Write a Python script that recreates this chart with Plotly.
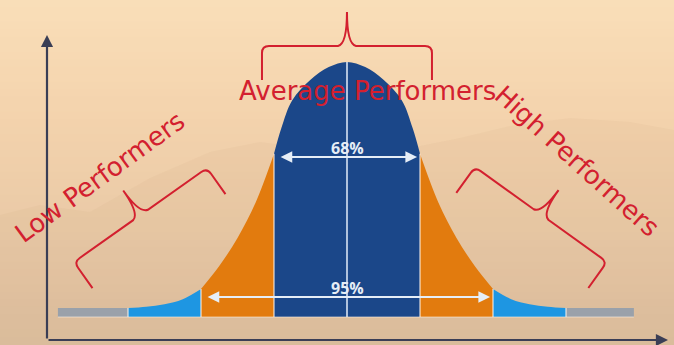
import numpy as np
import plotly.graph_objects as go

# ---------------- data ----------------
# bell curve: position in standard deviations (right half) and relative height
sigma_pos = [0, 0.25, 0.5, 0.75, 0.9, 1.0, 1.25, 1.5, 1.75, 2.0, 2.25, 2.5, 2.75, 3.0]
curve_height = [1.00, 0.98, 0.93, 0.85, 0.74, 0.64, 0.45, 0.31, 0.20, 0.11, 0.07, 0.05, 0.04, 0.035]

band_edges = [-3, -2, -1, 1, 2, 3]
band_names = ["Low tail", "Below avg", "Average", "Above avg", "High tail"]
tail_ranges = [(-3.96, -3.0), (3.0, 3.93)]
tail_height = 0.035

pct_labels = ["68%", "95%"]
pct_spans = [1, 2]          # +/- sigma spanned by the arrows
group_labels = ["Average Performers", "Low Performers", "High Performers"]

# ---------------- geometry helpers ----------------
W, H = 674, 345
CX, SIG, BASE, PEAK = 347, 73, 317, 255


def dx(px):
    return (px - CX) / SIG


def dy(py):
    return (BASE - py) / PEAK


def P(x, y):
    return f"{x / W:.4f},{1 - y / H:.4f}"


# full symmetric curve
xs = [-v for v in sigma_pos[::-1]] + sigma_pos[1:]
ys = curve_height[::-1] + curve_height[1:]
curve = dict(zip(xs, ys))

BAND_COLORS = ["#1E96E2", "#E27B0E", "#1B4789", "#E27B0E", "#1E96E2"]
GRAY = "#9AA1AA"
RED = "#D3202F"
LIGHT = "#E6EEF7"
AXIS = "#3A3E55"

fig = go.Figure()

# gray tails
for a, b in tail_ranges:
    fig.add_trace(go.Scatter(x=[a, b], y=[tail_height, tail_height], mode="lines",
                             line=dict(width=0, color=GRAY), fill="tozeroy",
                             fillcolor=GRAY, hoverinfo="skip", showlegend=False))

# colored bands
for i, name in enumerate(band_names):
    a, b = band_edges[i], band_edges[i + 1]
    bx = [x for x in xs if a <= x <= b]
    by = [curve[x] for x in bx]
    fig.add_trace(go.Scatter(x=bx, y=by, mode="lines", name=name,
                             line=dict(width=0, color=BAND_COLORS[i], shape="spline", smoothing=1.0),
                             fill="tozeroy", fillcolor=BAND_COLORS[i],
                             hoverinfo="skip", showlegend=False))

shapes = []
# background gradient bands
bg_stops = [(0, (250, 223, 185)), (120, (244, 211, 173)), (230, (234, 202, 167)), (345, (221, 191, 159))]
nb = 46
for k in range(nb):
    y0 = k * H / nb
    y1 = (k + 1) * H / nb
    yc = (y0 + y1) / 2
    for j in range(len(bg_stops) - 1):
        if bg_stops[j][0] <= yc <= bg_stops[j + 1][0]:
            t = (yc - bg_stops[j][0]) / (bg_stops[j + 1][0] - bg_stops[j][0])
            c = [int(bg_stops[j][1][m] + t * (bg_stops[j + 1][1][m] - bg_stops[j][1][m])) for m in range(3)]
            break
    shapes.append(dict(type="rect", xref="paper", yref="paper", x0=0, x1=1,
                       y0=1 - y1 / H, y1=1 - y0 / H + 0.002, line=dict(width=0),
                       fillcolor=f"rgb({c[0]},{c[1]},{c[2]})", layer="below"))

# faint mountain silhouettes
mount = [(0, 215), (40, 205), (90, 212), (150, 178), (210, 152), (260, 142), (320, 150),
         (400, 150), (460, 138), (510, 126), (570, 118), (630, 122), (674, 130), (674, 345), (0, 345)]
shapes.append(dict(type="path", xref="paper", yref="paper", layer="below",
                   path="M " + " L ".join(P(x, y) for x, y in mount) + " Z",
                   fillcolor="rgba(190,150,115,0.08)", line=dict(width=0)))

# separators between bands
for e in band_edges:
    shapes.append(dict(type="line", xref="x", yref="y", x0=e, x1=e, y0=0, y1=curve[e],
                       line=dict(color="rgba(255,245,235,0.85)", width=1.2)))
# centre line
shapes.append(dict(type="line", xref="x", yref="y", x0=0, x1=0, y0=0, y1=curve[0],
                   line=dict(color="rgba(225,235,248,0.95)", width=1.6)))
shapes.append(dict(type="line", xref="x", yref="y", x0=tail_ranges[0][0], x1=tail_ranges[1][1],
                   y0=0, y1=0, line=dict(color="rgba(255,240,225,0.6)", width=1)))


def brace(A, B, depth, nub, r=7, tip=9):
    A = np.array(A, float)
    B = np.array(B, float)
    d = (B - A) / np.linalg.norm(B - A)
    n = np.array([d[1], -d[0]])
    E1, E2 = A - n * depth, B - n * depth
    M = (A + B) / 2
    T = M + n * nub
    pts = [("M", E1), ("L", A - n * r), ("Q", A, A + d * r), ("L", M - d * tip),
           ("Q", M + n * 2, T), ("Q", M + n * 2, M + d * tip), ("L", B - d * r),
           ("Q", B, B - n * r), ("L", E2)]
    s = []
    for p in pts:
        s.append(p[0] + " " + " ".join(P(*q) for q in p[1:]))
    return " ".join(s)


for A, B, dep, nb_ in [((262, 46), (432, 46), 34, 34),
                       ((74, 262), (207, 168), 32, 30),
                       ((475, 167), (607, 262), 32, 30)]:
    shapes.append(dict(type="path", xref="paper", yref="paper", path=brace(A, B, dep, nb_),
                       line=dict(color=RED, width=2)))

annotations = []
# axis arrows
annotations.append(dict(x=dx(47), y=dy(35), xref="x", yref="y", text="", showarrow=True,
                        ax=0, ay=305, arrowhead=2, arrowsize=1.1, arrowwidth=2.2,
                        arrowcolor=AXIS, standoff=0))
annotations.append(dict(x=dx(668), y=dy(340), xref="x", yref="y", text="", showarrow=True,
                        ax=-621, ay=0, arrowhead=2, arrowsize=1.1, arrowwidth=2.2,
                        arrowcolor=AXIS, standoff=0))

# percentage arrows and labels
arrow_rows = [157, 297]
label_rows = [148, 288]
for lab, span, ay_, ly in zip(pct_labels, pct_spans, arrow_rows, label_rows):
    half = span * SIG - 4
    annotations.append(dict(x=span - 0.04, y=dy(ay_), xref="x", yref="y", text="",
                            showarrow=True, ax=-2 * half, ay=0, arrowhead=2, arrowside="end+start",
                            arrowsize=1.3, arrowwidth=1.8, arrowcolor=LIGHT, standoff=0, startstandoff=0))
    annotations.append(dict(x=0, y=dy(ly), xref="x", yref="y", text=f"<b>{lab}</b>",
                            showarrow=False, xanchor="center", yanchor="middle",
                            font=dict(family="Open Sans", size=16, color=LIGHT)))

# group labels
for lab, (cx, cy, ang) in zip(group_labels, [(367, 91, 0), (100, 177, -36), (577, 161, 42)]):
    annotations.append(dict(x=cx / W, y=1 - cy / H, xref="paper", yref="paper", text=lab,
                            showarrow=False, textangle=ang, xanchor="center", yanchor="middle",
                            font=dict(family="DejaVu Sans", size=26, color=RED)))

fig.update_layout(
    width=W, height=H, margin=dict(l=0, r=0, t=0, b=0),
    paper_bgcolor="#F0D0A8", plot_bgcolor="rgba(0,0,0,0)",
    xaxis=dict(range=[dx(0), dx(W)], visible=False, fixedrange=True),
    yaxis=dict(range=[dy(H), dy(0)], visible=False, fixedrange=True),
    shapes=shapes, annotations=annotations, showlegend=False,
)

fig.write_html("out.html")
